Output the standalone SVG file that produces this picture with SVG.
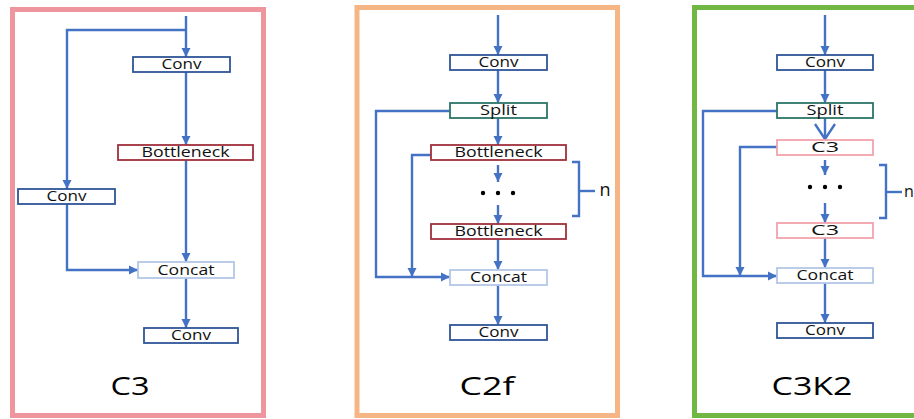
<svg xmlns="http://www.w3.org/2000/svg" width="914" height="419" viewBox="0 0 914 419">
<style>
.frame{fill:#fff;stroke-width:5}
.box{fill:#fff;stroke-width:1.8}
.conv{stroke:#2F5597}
.bott{stroke:#A0303C}
.split{stroke:#2E7568}
.c3{stroke:#F2A2AC}
.cat{stroke:#B4C7E7}
.t{font-family:"Open Sans","Noto Sans",sans-serif;font-size:14px;fill:#111;text-anchor:middle}
.big{font-family:"Open Sans","Noto Sans",sans-serif;font-size:26px;fill:#000;text-anchor:middle}
.ln{fill:none;stroke:#4472C4;stroke-width:2.4}
.dot{fill:#000}
</style>
<defs>
<marker id="ah" markerUnits="userSpaceOnUse" markerWidth="10" markerHeight="10" refX="9" refY="5" orient="auto">
<path d="M0,0.5 L9,5 L0,9.5 z" fill="#4472C4"/>
</marker>
</defs>
<g id="frames">
<rect class="frame" x="12.5" y="9.5" width="251" height="406" stroke="#EF959E"/>
<rect class="frame" x="357" y="7.5" width="260.5" height="408" stroke="#F5B585"/>
<rect class="frame" x="694.5" y="7.5" width="240" height="408" stroke="#71B743"/>
</g>
<g id="connectors">
<!-- C3 -->
<line class="ln" x1="186" y1="16" x2="186" y2="57" marker-end="url(#ah)"/>
<polyline class="ln" points="186,30 67,30 67,189" marker-end="url(#ah)"/>
<line class="ln" x1="186" y1="72" x2="186" y2="145" marker-end="url(#ah)"/>
<line class="ln" x1="186" y1="160" x2="186" y2="262" marker-end="url(#ah)"/>
<polyline class="ln" points="67,204 67,270 138,270" marker-end="url(#ah)"/>
<line class="ln" x1="186" y1="278" x2="186" y2="328" marker-end="url(#ah)"/>
<!-- C2f -->
<line class="ln" x1="498" y1="15" x2="498" y2="55" marker-end="url(#ah)"/>
<line class="ln" x1="498" y1="70" x2="498" y2="103" marker-end="url(#ah)"/>
<line class="ln" x1="498" y1="118" x2="498" y2="145" marker-end="url(#ah)"/>
<line class="ln" x1="498" y1="165" x2="498" y2="182" marker-end="url(#ah)"/>
<line class="ln" x1="498" y1="205" x2="498" y2="224" marker-end="url(#ah)"/>
<line class="ln" x1="498" y1="239" x2="498" y2="270" marker-end="url(#ah)"/>
<line class="ln" x1="498" y1="285" x2="498" y2="325" marker-end="url(#ah)"/>
<polyline class="ln" points="450,111 376,111 376,277 450,277" marker-end="url(#ah)"/>
<polyline class="ln" points="431,155 412,155 412,277" marker-end="url(#ah)"/>
<polyline class="ln" points="572,162 579,162 579,216 572,216"/>
<line class="ln" x1="579" y1="191" x2="595" y2="191"/>
<!-- C3K2 -->
<line class="ln" x1="825" y1="15" x2="825" y2="55" marker-end="url(#ah)"/>
<line class="ln" x1="825" y1="70" x2="825" y2="103" marker-end="url(#ah)"/>
<line class="ln" x1="825" y1="118" x2="825" y2="139"/>
<polyline class="ln" points="815,124 825,139 835,124"/>
<line class="ln" x1="825" y1="160" x2="825" y2="175" marker-end="url(#ah)"/>
<line class="ln" x1="825" y1="203" x2="825" y2="223" marker-end="url(#ah)"/>
<line class="ln" x1="825" y1="238" x2="825" y2="268" marker-end="url(#ah)"/>
<line class="ln" x1="825" y1="283" x2="825" y2="323" marker-end="url(#ah)"/>
<polyline class="ln" points="777,111 703,111 703,276 777,276" marker-end="url(#ah)"/>
<polyline class="ln" points="777,147 740,147 740,276" marker-end="url(#ah)"/>
<polyline class="ln" points="879,165 886,165 886,218 879,218"/>
<line class="ln" x1="886" y1="192" x2="902" y2="192"/>
</g>
<!-- C3 nodes -->
<g id="c3-conv1"><rect class="box conv" x="133" y="57" width="97" height="15"/><text class="t" x="181.5" y="69" textLength="40" lengthAdjust="spacingAndGlyphs">Conv</text></g>
<g id="c3-bottleneck"><rect class="box bott" x="118" y="145" width="135" height="15"/><text class="t" x="185.5" y="157" textLength="88" lengthAdjust="spacingAndGlyphs">Bottleneck</text></g>
<g id="c3-conv2"><rect class="box conv" x="18" y="189" width="97" height="15"/><text class="t" x="66.5" y="201" textLength="40" lengthAdjust="spacingAndGlyphs">Conv</text></g>
<g id="c3-concat"><rect class="box cat" x="138" y="262" width="96" height="16"/><text class="t" x="186" y="275" textLength="57" lengthAdjust="spacingAndGlyphs">Concat</text></g>
<g id="c3-conv3"><rect class="box conv" x="144" y="328" width="94" height="15"/><text class="t" x="191" y="340" textLength="40" lengthAdjust="spacingAndGlyphs">Conv</text></g>
<g id="c3-label"><text class="big" x="130" y="395" textLength="39" lengthAdjust="spacingAndGlyphs">C3</text></g>
<!-- C2f nodes -->
<g id="c2f-conv1"><rect class="box conv" x="450" y="55" width="97" height="15"/><text class="t" x="498.5" y="67" textLength="40" lengthAdjust="spacingAndGlyphs">Conv</text></g>
<g id="c2f-split"><rect class="box split" x="450" y="103" width="97" height="15"/><text class="t" x="498.5" y="115" textLength="37" lengthAdjust="spacingAndGlyphs">Split</text></g>
<g id="c2f-bottleneck1"><rect class="box bott" x="431" y="145" width="135" height="15"/><text class="t" x="498.5" y="157" textLength="88" lengthAdjust="spacingAndGlyphs">Bottleneck</text></g>
<g id="c2f-dots"><circle class="dot" cx="483" cy="193" r="2.2"/><circle class="dot" cx="498" cy="193" r="2.2"/><circle class="dot" cx="513" cy="193" r="2.2"/></g>
<g id="c2f-bottleneck2"><rect class="box bott" x="431" y="224" width="135" height="15"/><text class="t" x="498.5" y="236" textLength="88" lengthAdjust="spacingAndGlyphs">Bottleneck</text></g>
<g id="c2f-concat"><rect class="box cat" x="450" y="270" width="97" height="15"/><text class="t" x="498.5" y="282" textLength="57" lengthAdjust="spacingAndGlyphs">Concat</text></g>
<g id="c2f-conv2"><rect class="box conv" x="450" y="325" width="97" height="15"/><text class="t" x="498.5" y="337" textLength="40" lengthAdjust="spacingAndGlyphs">Conv</text></g>
<g id="c2f-n"><text class="t" x="605" y="196" style="font-size:18px">n</text></g>
<g id="c2f-label"><text class="big" x="487" y="395" textLength="55" lengthAdjust="spacingAndGlyphs">C2f</text></g>
<!-- C3K2 nodes -->
<g id="c3k2-conv1"><rect class="box conv" x="777" y="55" width="96" height="15"/><text class="t" x="825" y="67" textLength="40" lengthAdjust="spacingAndGlyphs">Conv</text></g>
<g id="c3k2-split"><rect class="box split" x="777" y="103" width="96" height="15"/><text class="t" x="825" y="115" textLength="37" lengthAdjust="spacingAndGlyphs">Split</text></g>
<g id="c3k2-c3a"><rect class="box c3" x="777" y="140" width="96" height="15"/><text class="t" x="825" y="152" textLength="28" lengthAdjust="spacingAndGlyphs">C3</text></g>
<g id="c3k2-dots"><circle class="dot" cx="810" cy="187" r="2.2"/><circle class="dot" cx="825" cy="187" r="2.2"/><circle class="dot" cx="840" cy="187" r="2.2"/></g>
<g id="c3k2-c3b"><rect class="box c3" x="777" y="223" width="96" height="15"/><text class="t" x="825" y="235" textLength="28" lengthAdjust="spacingAndGlyphs">C3</text></g>
<g id="c3k2-concat"><rect class="box cat" x="777" y="268" width="96" height="15"/><text class="t" x="825" y="280" textLength="57" lengthAdjust="spacingAndGlyphs">Concat</text></g>
<g id="c3k2-conv2"><rect class="box conv" x="777" y="323" width="96" height="15"/><text class="t" x="825" y="335" textLength="40" lengthAdjust="spacingAndGlyphs">Conv</text></g>
<g id="c3k2-n"><text class="t" x="904" y="197" style="font-size:16px;text-anchor:start">n</text></g>
<g id="c3k2-label"><text class="big" x="812" y="395" textLength="81" lengthAdjust="spacingAndGlyphs">C3K2</text></g>
</svg>
